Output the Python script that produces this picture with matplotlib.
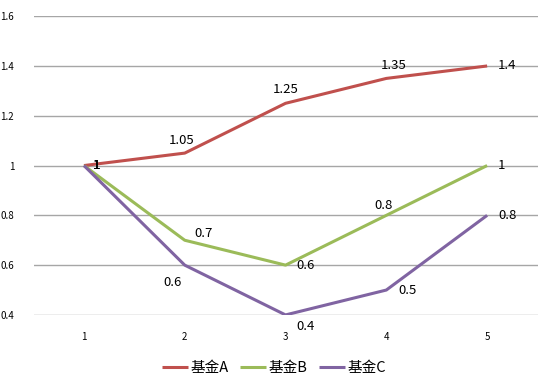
import matplotlib
matplotlib.use("Agg")
import matplotlib.pyplot as plt

plt.rcParams['font.family'] = ['Noto Sans CJK SC', 'DejaVu Sans']

categories = ["1", "2", "3", "4", "5"]
fund_a = [1, 1.05, 1.25, 1.35, 1.4]
fund_b = [1, 0.7, 0.6, 0.8, 1]
fund_c = [1, 0.6, 0.4, 0.5, 0.8]
names = ["基金A", "基金B", "基金C"]
colors = ["#C0504D", "#9BBB59", "#8064A2"]
y_ticks = [0.4, 0.6, 0.8, 1.0, 1.2, 1.4, 1.6]
y_tick_labels = ["0.4", "0.6", "0.8", "1", "1.2", "1.4", "1.6"]

# label offsets in pixels (dx, dy) and alignment, per series/point
offsets = [
    [(13, 0, "center"), (-3, 13, "center"), (0, 14, "center"), (7, 13, "center"), (11, 0, "left")],
    [(13, 0, "center"), (19, 7, "center"), (11, 0, "left"), (-3, 10, "center"), (11, 0, "left")],
    [(13, 0, "center"), (-12, -17, "center"), (20, -12, "center"), (12, 0, "left"), (11, 0, "left")],
]

fig = plt.figure(figsize=(5.59, 3.85), dpi=100)
ax = fig.add_axes([0.06, 0.182, 0.9016, 0.776])

x = list(range(len(categories)))
series = [fund_a, fund_b, fund_c]
for vals, name, col, offs in zip(series, names, colors, offsets):
    ax.plot(x, vals, color=col, lw=2.2, label=name, solid_capstyle="butt", zorder=3)
    for xi, v, (dx, dy, ha) in zip(x, vals, offs):
        lab = f"{v:g}"
        ax.annotate(lab, (xi, v), xytext=(dx, dy), textcoords="offset pixels",
                    ha=ha, va="center", fontsize=9.5, color="black", zorder=4)

ax.set_xlim(-0.5, len(categories) - 0.5)
ax.set_ylim(0.4, 1.6)
ax.set_yticks(y_ticks)
ax.set_yticklabels(y_tick_labels, fontsize=7)
ax.set_xticks(x)
ax.set_xticklabels(categories, fontsize=7)
ax.tick_params(length=0, pad=14, axis="y")
ax.tick_params(length=0, pad=12, axis="x")
ax.grid(axis="y", color="#A6A6A6", lw=1)
ax.set_axisbelow(True)
for s in ax.spines.values():
    s.set_visible(False)

fig.legend(loc="center", bbox_to_anchor=(274 / 559, 1 - 368 / 385), ncol=3,
           frameon=False, fontsize=10.5, handlelength=1.8, columnspacing=0.8,
           handletextpad=0.15)

fig.savefig("out.png", dpi=100)
